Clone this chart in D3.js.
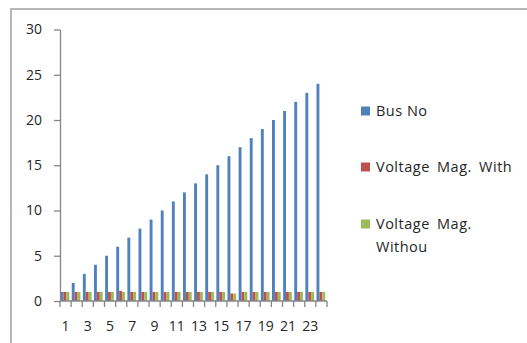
<!DOCTYPE html>
<html>
<head>
<meta charset="utf-8">
<script src="https://cdn.jsdelivr.net/npm/d3@7"></script>
<style>
  html, body { margin: 0; padding: 0; background: #fff; }
  svg { display: block; font-family: "Open Sans", "Liberation Sans", sans-serif; }
</style>
</head>
<body>
<svg id="chart" width="527" height="343"></svg>
<script>
// Bus numbers 1..24 and the per-bus voltage magnitudes (p.u.)
const buses = [1,2,3,4,5,6,7,8,9,10,11,12,13,14,15,16,17,18,19,20,21,22,23,24];
const busNo = [1,2,3,4,5,6,7,8,9,10,11,12,13,14,15,16,17,18,19,20,21,22,23,24];
const voltageWith = [1.0,1.0,1.0,1.0,1.0,1.12,1.0,1.0,1.0,1.0,1.0,1.0,1.0,1.0,1.0,0.82,1.0,1.0,1.0,1.0,1.0,1.0,1.0,1.0];
const voltageWithout = [1.0,1.0,1.0,1.0,1.0,1.0,1.0,1.0,1.0,1.0,1.0,1.0,1.0,1.0,1.0,0.82,1.0,1.0,1.0,1.0,1.0,1.0,1.0,1.0];
const seriesNames = ["Bus No", "Voltage Mag. With", "Voltage Mag. Withou"];
const seriesColors = ["#4F81BD", "#C0504D", "#9BBB59"];
const yTicks = [0,5,10,15,20,25,30];

const svg = d3.select("#chart");
const axisColor = "#868686";
const textColor = "#262626";
const fontSize = "14px";

// Outer chart frame (continues past the right and bottom edges)
svg.append("rect")
  .attr("x", 11).attr("y", 9)
  .attr("width", 560).attr("height", 380)
  .attr("fill", "none")
  .attr("stroke", "#a6a6a6")
  .attr("stroke-width", 1.6);

const plot = { left: 60, right: 327, top: 29.5, bottom: 301 };

const x = d3.scaleBand().domain(buses).range([plot.left, plot.right]).padding(0);
const y = d3.scaleLinear().domain([0, 30]).range([plot.bottom, plot.top]);

const groupWidth = x.bandwidth() * 0.78;
const xs = d3.scaleBand().domain(d3.range(3)).range([0, groupWidth]).padding(0);
const groupOffset = (x.bandwidth() - groupWidth) / 2 - 0.6;

const seriesData = [busNo, voltageWith, voltageWithout];

// Bars
seriesData.forEach((vals, si) => {
  svg.append("g").selectAll("rect")
    .data(buses.map((b, i) => ({ b, v: vals[i] })))
    .join("rect")
    .attr("x", d => x(d.b) + groupOffset + xs(si))
    .attr("y", d => y(d.v))
    .attr("width", xs.bandwidth())
    .attr("height", d => y(0) - y(d.v))
    .attr("fill", seriesColors[si]);
});

// Y axis
const yAxis = svg.append("g")
  .attr("transform", `translate(${plot.left},0)`)
  .call(d3.axisLeft(y).tickValues(yTicks).tickSize(6).tickPadding(12).tickSizeOuter(0));
yAxis.select(".domain").attr("stroke", axisColor).attr("stroke-width", 1.3);
yAxis.selectAll(".tick line").attr("stroke", axisColor).attr("stroke-width", 1.3);
yAxis.selectAll(".tick text")
  .attr("fill", textColor)
  .style("font-size", fontSize)
  .style("font-family", "\"Open Sans\", sans-serif");

// X axis: tick marks at category boundaries, labels on odd bus numbers
const xg = svg.append("g").attr("transform", `translate(0,${plot.bottom})`);
xg.append("line")
  .attr("x1", plot.left).attr("x2", plot.right)
  .attr("y1", 0).attr("y2", 0)
  .attr("stroke", axisColor).attr("stroke-width", 1.3);
const boundaries = buses.map(b => x(b)).concat([x(buses[buses.length - 1]) + x.bandwidth()]);
xg.selectAll("line.tk")
  .data(boundaries)
  .join("line")
  .attr("class", "tk")
  .attr("x1", d => d).attr("x2", d => d)
  .attr("y1", 0).attr("y2", 6)
  .attr("stroke", axisColor).attr("stroke-width", 1.3);
xg.selectAll("text")
  .data(buses.filter(b => b % 2 === 1))
  .join("text")
  .attr("x", d => x(d) + x.bandwidth() / 2)
  .attr("y", 30)
  .attr("text-anchor", "middle")
  .attr("fill", textColor)
  .style("font-size", fontSize)
  .text(d => d);

// Legend
const legendItems = [
  { name: ["Bus No"], y: 111, ws: 0 },
  { name: ["Voltage Mag. With"], y: 167, ws: 3 },
  { name: ["Voltage Mag.", "Withou"], y: 224, ws: 3 }
];
const legend = svg.append("g");
legendItems.forEach((item, i) => {
  legend.append("rect")
    .attr("x", 361).attr("y", item.y - 4.5)
    .attr("width", 9).attr("height", 9)
    .attr("fill", seriesColors[i]);
  const t = legend.append("text")
    .attr("x", 376).attr("y", item.y + 5)
    .attr("fill", textColor)
    .style("font-size", "14.5px")
    .style("letter-spacing", "0.5px")
    .style("word-spacing", item.ws + "px");
  item.name.forEach((line, li) => {
    t.append("tspan").attr("x", 376).attr("dy", li === 0 ? 0 : 23).text(line);
  });
});
</script>
</body>
</html>
